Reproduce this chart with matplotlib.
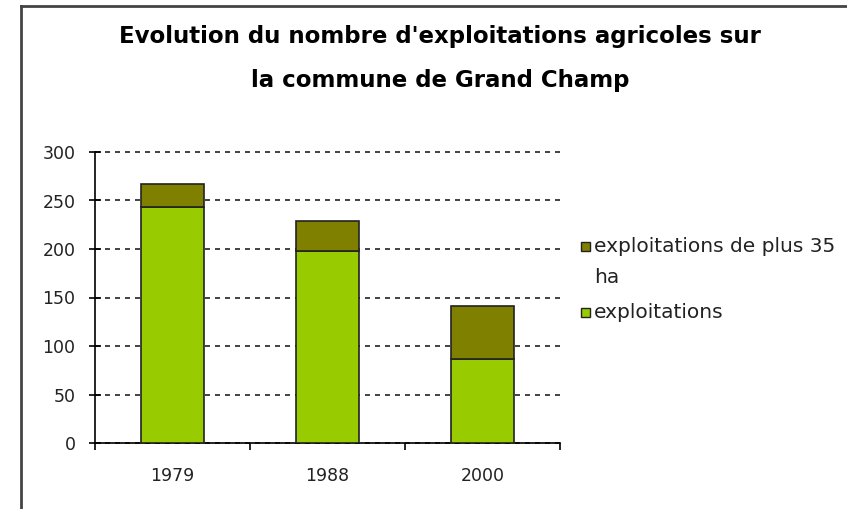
import matplotlib.pyplot as plt
import matplotlib.patches as mpatches

plt.rcParams['font.family'] = ['DejaVu Sans']

years = ["1979", "1988", "2000"]
exploitations = [243, 198, 87]
plus35 = [24, 31, 54]
legend_labels = ["exploitations de plus 35\nha", "exploitations"]

green = "#99cc00"
olive = "#808000"
ink = "#222222"

fig = plt.figure(figsize=(8.47, 5.09), dpi=100)
ax = fig.add_axes([95/847, 66/509, 465/847, 291/509])

x = range(len(years))
ax.bar(x, exploitations, width=0.41, color=green, edgecolor=ink, linewidth=1.2, zorder=3)
ax.bar(x, plus35, bottom=exploitations, width=0.41, color=olive, edgecolor=ink, linewidth=1.2, zorder=3)

ax.set_xlim(-0.5, 2.5)
ax.set_ylim(0, 300)
ax.set_yticks(range(0, 301, 50))
ax.set_xticks(x)
ax.set_xticklabels(years)
ax.set_xticks([-0.5, 0.5, 1.5, 2.5], minor=True)
ax.tick_params(axis='x', which='major', length=0, pad=17, labelsize=12.5, colors=ink)
ax.tick_params(axis='x', which='minor', direction='out', length=5, width=1.2)
ax.tick_params(axis='y', direction='inout', length=8, width=1.2, labelsize=12.5, pad=10)
for lab in ax.get_yticklabels() + ax.get_xticklabels():
    lab.set_color(ink)

ax.yaxis.grid(True, linestyle=(0, (3, 3)), color=ink, linewidth=1.2, zorder=0)
for gl in ax.get_ygridlines():
    gl.set_clip_on(False)
ax.spines['top'].set_visible(False)
ax.spines['right'].set_visible(False)
ax.spines['left'].set_linewidth(1.2)
ax.spines['bottom'].set_linewidth(1.2)

fig.text(440/847, 1 - 36/509, "Evolution du nombre d'exploitations agricoles sur",
         ha='center', va='center', fontsize=16.5, fontweight='bold')
fig.text(440/847, 1 - 80/509, "la commune de Grand Champ",
         ha='center', va='center', fontsize=16.5, fontweight='bold')

# legend drawn by hand so the square sits on the first line of the label
W, H = 847, 509
for label, color, ytop in zip(legend_labels, [olive, green], [242, 308]):
    fig.add_artist(mpatches.Rectangle((581/W, 1 - (ytop + 9)/H), 9/W, 9/H,
                                      transform=fig.transFigure, facecolor=color,
                                      edgecolor=ink, linewidth=1))
    fig.text(594/W, 1 - (ytop + 4.5)/H, label.split("\n")[0], ha='left', va='center',
             fontsize=14.5, color=ink)
    if "\n" in label:
        fig.text(594/W, 1 - (ytop + 35.5)/H, label.split("\n")[1], ha='left', va='center',
                 fontsize=14.5, color=ink)

# frame around the whole chart
fig.add_artist(plt.Line2D([21/W, 21/W], [0, 1 - 6/H], transform=fig.transFigure, color="#444444", linewidth=2))
fig.add_artist(plt.Line2D([21/W, 1], [1 - 6/H, 1 - 6/H], transform=fig.transFigure, color="#444444", linewidth=2))

fig.savefig("out.png", dpi=100)
